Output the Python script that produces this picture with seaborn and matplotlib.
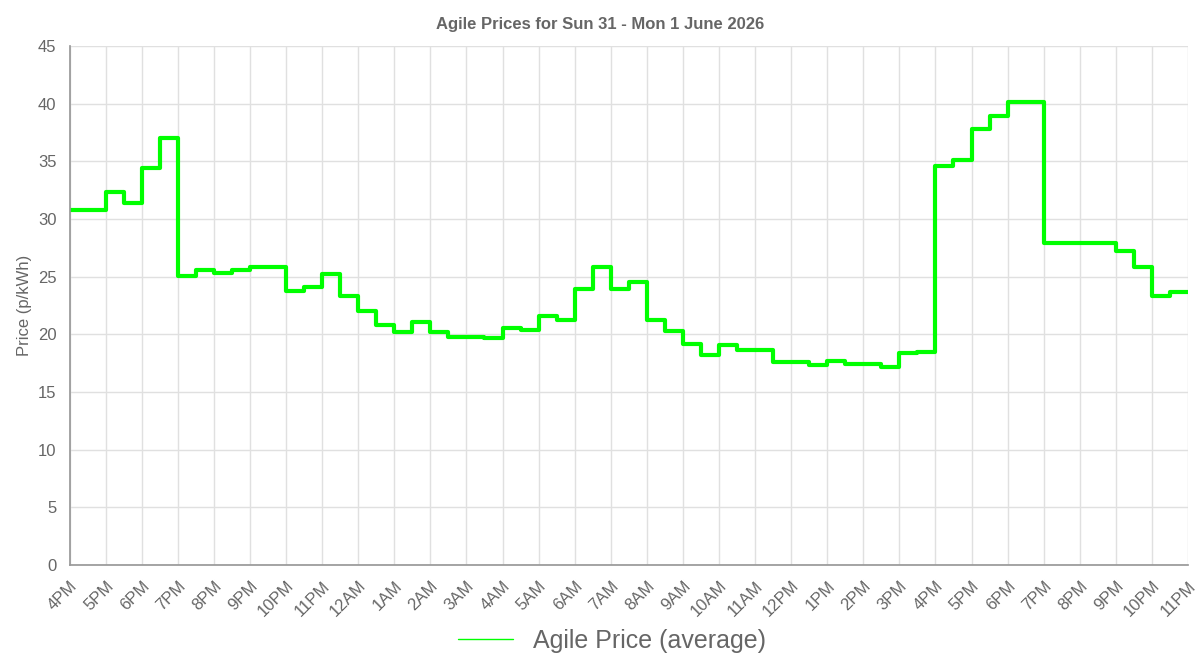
import matplotlib
matplotlib.use("Agg")
import matplotlib.pyplot as plt
import seaborn as sns
import pandas as pd
import numpy as np

title = "Agile Prices for Sun 31 - Mon 1 June 2026"
tick_labels = ["4PM","5PM","6PM","7PM","8PM","9PM","10PM","11PM","12AM","1AM","2AM","3AM","4AM","5AM",
               "6AM","7AM","8AM","9AM","10AM","11AM","12PM","1PM","2PM","3PM","4PM","5PM","6PM","7PM",
               "8PM","9PM","10PM","11PM"]
# half-hourly prices starting 4PM Sunday
prices = [30.8, 30.8, 32.3, 31.4, 34.45, 37.0, 25.1, 25.6, 25.3, 25.6, 25.8, 25.8,
          23.75, 24.1, 25.2, 23.3, 22.0, 20.8, 20.2, 21.1, 20.2, 19.8, 19.8, 19.7,
          20.55, 20.4, 21.6, 21.2, 23.9, 25.8, 23.9, 24.5, 21.2, 20.3, 19.2, 18.2,
          19.05, 18.6, 18.6, 17.6, 17.6, 17.3, 17.7, 17.4, 17.45, 17.2, 18.4,
          18.5, 34.6, 35.1, 37.8, 38.9, 40.15, 40.15, 27.9, 27.9, 27.9, 27.9, 27.2,
          25.8, 23.3, 23.7]

hours = np.arange(len(prices)) * 0.5
df = pd.DataFrame({"hour": np.append(hours, hours[-1] + 0.5),
                   "price": prices + [prices[-1]]})

sns.set_theme(style="white")
plt.rcParams['font.family'] = ['Liberation Sans', 'DejaVu Sans']
fig = plt.figure(figsize=(12, 6.67), dpi=100)
ax = fig.add_axes([0.058, 0.153, 0.932, 0.778])
sns.lineplot(data=df, x="hour", y="price", ax=ax, color="#00ff00", linewidth=3,
             drawstyle="steps-post", label="Agile Price (average)")
ax.set_xlim(0, 31)
ax.set_ylim(0, 45)
ax.set_xticks(range(32))
ax.set_xticklabels(tick_labels, rotation=45, ha="right", rotation_mode="anchor", fontsize=12, color="#666666")
ax.set_yticks(range(0, 46, 5))
ax.tick_params(axis="y", labelsize=12, colors="#666666")
ax.tick_params(axis="x", colors="#666666", length=6, color="#cccccc")
ax.grid(True, color="#e0e0e0", linewidth=1)
for s in ["top", "right"]:
    ax.spines[s].set_visible(False)
for s in ["left", "bottom"]:
    ax.spines[s].set_color("#999999")
ax.set_xlabel("")
ax.set_ylabel("Price (p/kWh)", fontsize=12, color="#666666")
fig.suptitle(title, y=0.975, fontsize=12, fontweight="bold", color="#666666")
ax.legend_.remove()
fig.legend(*ax.get_legend_handles_labels(), loc="lower center", bbox_to_anchor=(0.51, -0.012),
           frameon=False, fontsize=18, labelcolor="#666666", handlelength=2.2)
for line in fig.legends[0].get_lines():
    line.set_linewidth(1)
fig.savefig("out.png", dpi=100)
